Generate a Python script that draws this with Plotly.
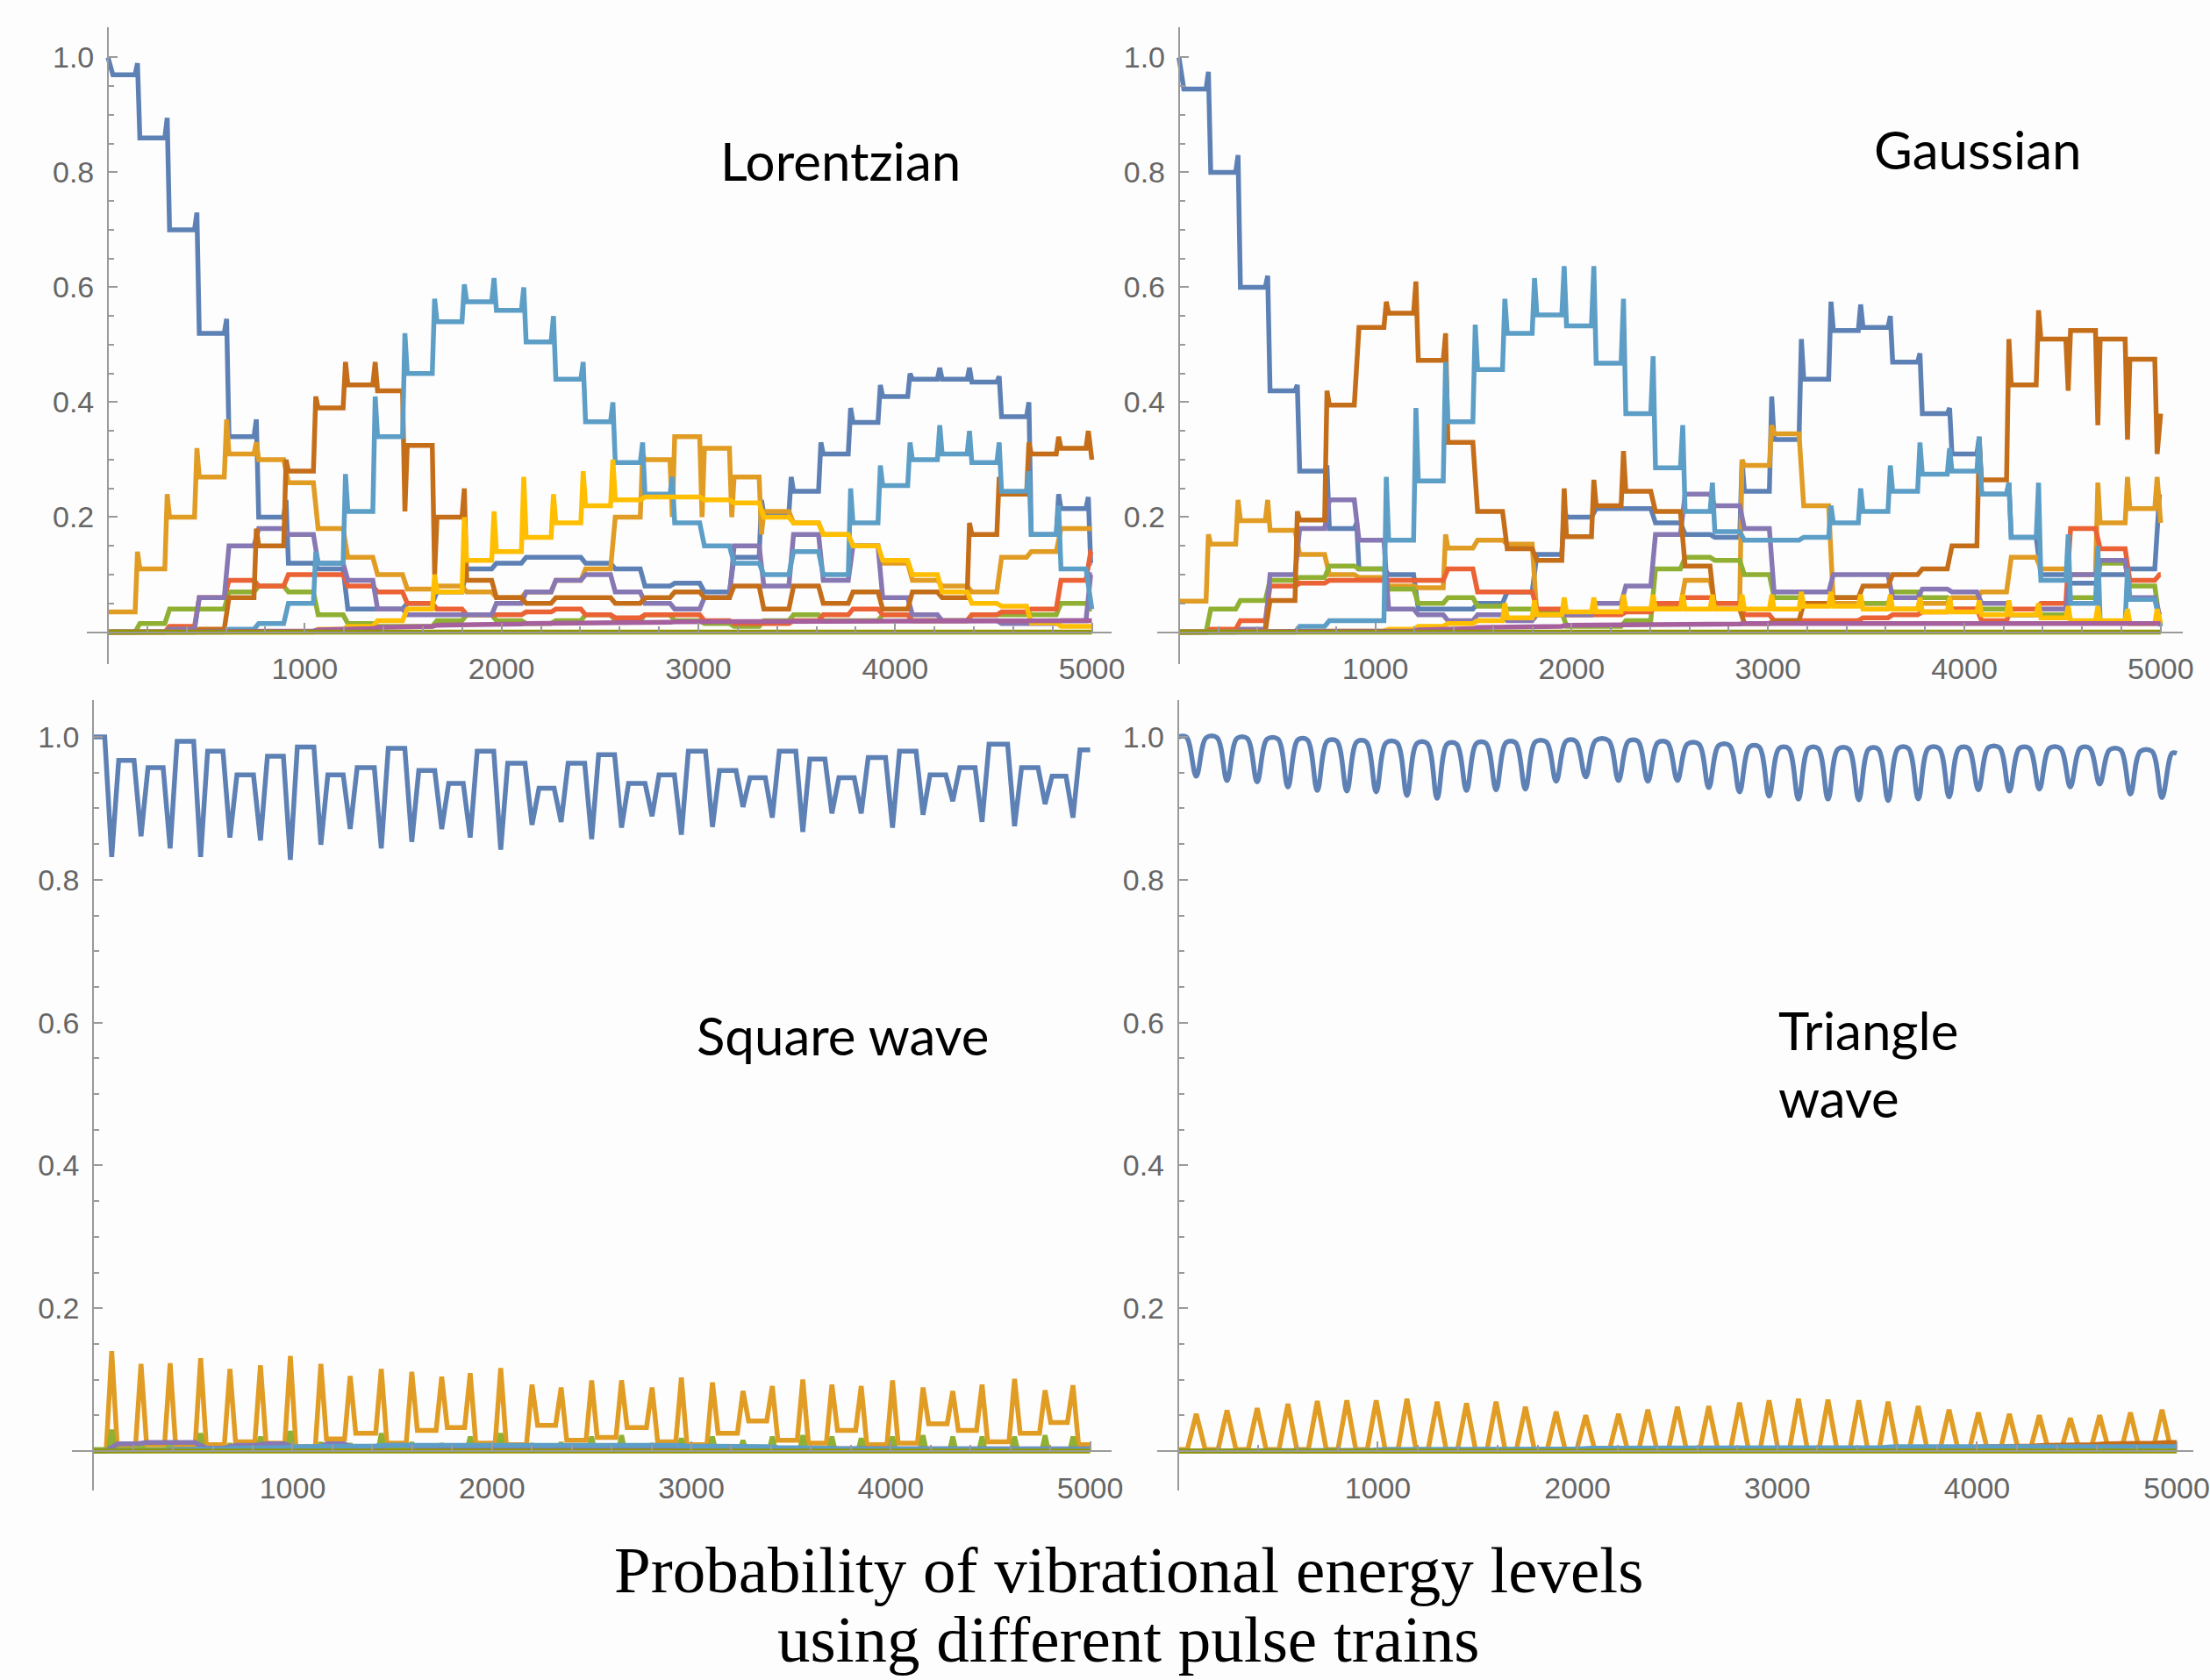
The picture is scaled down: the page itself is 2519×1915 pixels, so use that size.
import plotly.graph_objects as go

W, H = 2519, 1915

# ---------------- data ----------------
# pulse (transition) times, top panels
TOP_T = [150, 301, 452, 603, 754, 905, 1056, 1207, 1358, 1509, 1660, 1811, 1962, 2113, 2264, 2415,
         2566, 2717, 2868, 3019, 3170, 3321, 3472, 3623, 3774, 3925, 4076, 4227, 4378, 4529, 4680,
         4831, 4982]

# Lorentzian: plateau level of each level-population between pulses
L_BLUE = [0.97, 0.86, 0.70, 0.52, 0.34, 0.20, 0.12, 0.11, 0.04, 0.04, 0.05, 0.07, 0.11, 0.12, 0.13, 0.13,
          0.12, 0.11, 0.08, 0.085, 0.07, 0.13, 0.205, 0.245, 0.31, 0.365, 0.41, 0.44, 0.44, 0.435, 0.375,
          0.17, 0.215, 0.12]
L_BLUE_SPK = {1: 0.99, 2: 0.895, 3: 0.73, 4: 0.545, 5: 0.37, 6: 0.23, 22: 0.23, 23: 0.27, 24: 0.33,
              25: 0.39, 26: 0.43, 27: 0.45, 28: 0.46, 29: 0.46, 30: 0.445, 31: 0.40, 32: 0.24, 33: 0.235}
L_ORANGE = [0.035, 0.11, 0.20, 0.27, 0.31, 0.30, 0.26, 0.18, 0.13, 0.10, 0.075, 0.08, 0.07, 0.06, 0.07,
            0.09, 0.11, 0.20, 0.30, 0.34, 0.32, 0.27, 0.21, 0.19, 0.17, 0.15, 0.12, 0.09, 0.08, 0.07,
            0.13, 0.14, 0.18, 0.18]
L_ORANGE_SPK = {1: 0.14, 2: 0.24, 3: 0.32, 4: 0.37, 5: 0.33, 18: 0.31, 19: 0.20, 20: 0.20, 21: 0.20,
                22: 0.17}
L_GREEN = [0, 0.015, 0.04, 0.04, 0.07, 0.08, 0.07, 0.03, 0.015, 0.01, 0.01, 0.02, 0.03, 0.02, 0.015,
           0.02, 0.03, 0.02, 0.03, 0.02, 0.015, 0.01, 0.02, 0.03, 0.02, 0.02, 0.03, 0.02, 0.02, 0.03,
           0.03, 0.03, 0.05, 0.04]
L_RED = [0, 0, 0.01, 0.06, 0.09, 0.08, 0.10, 0.10, 0.08, 0.07, 0.05, 0.04, 0.03, 0.03, 0.035, 0.04,
         0.03, 0.025, 0.03, 0.03, 0.02, 0.015, 0.015, 0.02, 0.03, 0.04, 0.03, 0.02, 0.02, 0.03, 0.035,
         0.04, 0.09, 0.14]
L_PURPLE = [0, 0, 0.005, 0.06, 0.15, 0.18, 0.17, 0.12, 0.09, 0.04, 0.03, 0.03, 0.03, 0.05, 0.07, 0.09,
            0.10, 0.07, 0.05, 0.04, 0.06, 0.15, 0.08, 0.17, 0.09, 0.15, 0.06, 0.03, 0.02, 0.02, 0.015,
            0.015, 0.02, 0.10]
L_BROWN = [0, 0, 0, 0.005, 0.06, 0.15, 0.28, 0.39, 0.43, 0.42, 0.325, 0.20, 0.09, 0.06, 0.05, 0.06,
           0.06, 0.05, 0.06, 0.07, 0.06, 0.08, 0.04, 0.08, 0.05, 0.07, 0.04, 0.07, 0.06, 0.17, 0.24,
           0.31, 0.32, 0.30]
L_BROWN_SPK = {5: 0.18, 6: 0.30, 7: 0.41, 8: 0.47, 9: 0.47, 10: 0.21, 11: 0.10, 12: 0.25, 29: 0.19,
               30: 0.27, 31: 0.33, 32: 0.34, 33: 0.35}
L_LBLUE = [0, 0, 0, 0, 0.005, 0.015, 0.05, 0.12, 0.21, 0.34, 0.45, 0.54, 0.575, 0.56, 0.505, 0.44,
           0.366, 0.295, 0.24, 0.19, 0.15, 0.12, 0.10, 0.14, 0.10, 0.19, 0.255, 0.30, 0.31, 0.295,
           0.245, 0.17, 0.11, 0.04]
L_LBLUE_SPK = {7: 0.14, 8: 0.275, 9: 0.41, 10: 0.52, 11: 0.58, 12: 0.605, 13: 0.616, 14: 0.60,
               15: 0.55, 16: 0.47, 17: 0.40, 18: 0.33, 19: 0.27, 25: 0.25, 26: 0.29, 27: 0.33,
               28: 0.36, 29: 0.35, 30: 0.33, 31: 0.28, 32: 0.22}
L_YELLOW = [0, 0, 0, 0, 0, 0, 0, 0.005, 0.01, 0.02, 0.04, 0.07, 0.125, 0.14, 0.165, 0.19, 0.22, 0.23,
            0.235, 0.235, 0.23, 0.225, 0.20, 0.19, 0.17, 0.15, 0.125, 0.10, 0.07, 0.05, 0.045, 0.016,
            0.01, 0.01]
L_YELLOW_SPK = {11: 0.10, 12: 0.20, 13: 0.21, 14: 0.27, 15: 0.24, 16: 0.28, 17: 0.30}
L_MAGENTA = [0, 0, 0, 0, 0, 0, 0.002, 0.004, 0.006, 0.008, 0.01, 0.012, 0.012, 0.014, 0.015, 0.015,
             0.016, 0.016, 0.017, 0.018, 0.018, 0.018, 0.018, 0.019, 0.019, 0.019, 0.02, 0.02, 0.02,
             0.02, 0.02, 0.02, 0.02, 0.02]

# Gaussian
G_BLUE = [0.945, 0.80, 0.60, 0.42, 0.28, 0.18, 0.11, 0.10, 0.04, 0.04, 0.05, 0.07, 0.135, 0.20, 0.215,
          0.215, 0.19, 0.17, 0.165, 0.245, 0.335, 0.44, 0.525, 0.53, 0.47, 0.38, 0.31, 0.24, 0.165,
          0.10, 0.085, 0.10, 0.11, 0.24]
G_BLUE_SPK = {1: 0.975, 2: 0.83, 3: 0.62, 4: 0.43, 5: 0.29, 6: 0.19, 13: 0.215, 19: 0.30, 20: 0.41,
              21: 0.51, 22: 0.575, 23: 0.57, 24: 0.55, 25: 0.485, 26: 0.39, 27: 0.34, 28: 0.26}
G_ORANGE = [0.054, 0.153, 0.194, 0.177, 0.135, 0.10, 0.095, 0.08, 0.077, 0.146, 0.16, 0.153, 0.03,
            0.03, 0.035, 0.04, 0.045, 0.09, 0.05, 0.29, 0.345, 0.22, 0.05, 0.05, 0.04, 0.05, 0.06,
            0.07, 0.13, 0.11, 0.10, 0.19, 0.215, 0.19]
G_ORANGE_SPK = {1: 0.17, 2: 0.23, 3: 0.23, 9: 0.17, 19: 0.30, 20: 0.36, 31: 0.26, 32: 0.27, 33: 0.27}
G_GREEN = [0, 0.04, 0.055, 0.09, 0.095, 0.115, 0.11, 0.075, 0.05, 0.06, 0.045, 0.04, 0.035, 0.01,
           0.01, 0.02, 0.11, 0.13, 0.125, 0.10, 0.06, 0.05, 0.06, 0.05, 0.07, 0.06, 0.04, 0.04, 0.03,
           0.03, 0.06, 0.12, 0.08, 0.02]
G_RED = [0, 0.005, 0.02, 0.08, 0.085, 0.09, 0.09, 0.09, 0.09, 0.11, 0.07, 0.07, 0.04, 0.03, 0.03,
         0.035, 0.05, 0.06, 0.05, 0.03, 0.02, 0.02, 0.02, 0.025, 0.03, 0.035, 0.04, 0.02, 0.04, 0.05,
         0.18, 0.145, 0.09, 0.10]
G_PURPLE = [0, 0, 0.005, 0.10, 0.18, 0.23, 0.16, 0.04, 0.03, 0.02, 0.03, 0.02, 0.03, 0.03, 0.05, 0.08,
            0.17, 0.24, 0.22, 0.18, 0.07, 0.07, 0.10, 0.10, 0.06, 0.075, 0.07, 0.05, 0.03, 0.04, 0.10,
            0.125, 0.06, 0.03]
G_BROWN = [0, 0, 0.002, 0.055, 0.195, 0.395, 0.53, 0.555, 0.473, 0.33, 0.21, 0.145, 0.125, 0.166,
           0.22, 0.245, 0.21, 0.115, 0.04, 0.015, 0.02, 0.05, 0.06, 0.08, 0.10, 0.11, 0.15, 0.265,
           0.43, 0.51, 0.525, 0.51, 0.475, 0.38]
G_BROWN_SPK = {4: 0.21, 5: 0.42, 7: 0.575, 8: 0.61, 9: 0.52, 13: 0.25, 14: 0.265, 15: 0.315,
               27: 0.33, 28: 0.51, 29: 0.56, 30: 0.42, 31: 0.36, 32: 0.335, 33: 0.31}
G_LBLUE = [0, 0, 0, 0, 0.01, 0.02, 0.02, 0.16, 0.263, 0.366, 0.457, 0.52, 0.552, 0.533, 0.468, 0.38,
           0.286, 0.21, 0.175, 0.16, 0.16, 0.165, 0.19, 0.21, 0.245, 0.275, 0.28, 0.24, 0.165, 0.09,
           0.05, 0.016, 0.057, 0.01]
G_LBLUE_SPK = {7: 0.27, 8: 0.39, 9: 0.47, 10: 0.535, 11: 0.58, 12: 0.616, 13: 0.637, 14: 0.637,
               15: 0.58, 16: 0.48, 17: 0.36, 18: 0.26, 22: 0.22, 23: 0.25, 24: 0.29, 25: 0.33,
               26: 0.32, 27: 0.34, 28: 0.26, 29: 0.26, 30: 0.17, 31: 0.15, 32: 0.11}
G_YELLOW = [0, 0, 0, 0, 0, 0, 0.002, 0.005, 0.01, 0.015, 0.02, 0.025, 0.03, 0.035, 0.035, 0.04, 0.04,
            0.04, 0.04, 0.04, 0.04, 0.045, 0.045, 0.04, 0.04, 0.035, 0.035, 0.03, 0.03, 0.025, 0.02,
            0.02, 0.015, 0.015]
G_YELLOW_SPK = {11: 0.05, 12: 0.055, 13: 0.06, 14: 0.06, 15: 0.065, 16: 0.065, 17: 0.065, 18: 0.065,
                19: 0.065, 20: 0.065, 21: 0.07, 22: 0.07, 23: 0.065, 24: 0.065, 25: 0.06, 26: 0.06,
                27: 0.055, 28: 0.055, 29: 0.05, 30: 0.045, 31: 0.045, 32: 0.04, 33: 0.04}
G_MAGENTA = [0, 0, 0, 0, 0, 0, 0, 0.002, 0.004, 0.006, 0.008, 0.01, 0.01, 0.012, 0.012, 0.012, 0.014,
             0.014, 0.014, 0.015, 0.015, 0.015, 0.015, 0.015, 0.015, 0.015, 0.015, 0.015, 0.015,
             0.015, 0.015, 0.015, 0.015, 0.015]

# Square wave: pulse centres, plateaus between pulses and extreme value during each pulse
SQ_T = [93, 240, 386, 539, 686, 839, 989, 1142, 1289, 1445, 1598, 1748, 1891, 2044, 2201, 2347, 2500,
        2650, 2803, 2950, 3106, 3259, 3406, 3559, 3705, 3852, 4009, 4162, 4311, 4458, 4621, 4774, 4914]
SQ_BLUE_PLAT = [1.0, 0.967, 0.957, 0.994, 0.980, 0.947, 0.973, 0.986, 0.947, 0.957, 0.984, 0.953,
                0.935, 0.980, 0.963, 0.928, 0.963, 0.975, 0.935, 0.947, 0.980, 0.953, 0.943, 0.980,
                0.969, 0.943, 0.971, 0.980, 0.947, 0.957, 0.990, 0.957, 0.945, 0.982]
SQ_BLUE_DIP = [0.832, 0.861, 0.844, 0.832, 0.859, 0.855, 0.828, 0.849, 0.871, 0.844, 0.853, 0.871,
               0.859, 0.842, 0.877, 0.881, 0.857, 0.873, 0.889, 0.863, 0.874, 0.902, 0.887, 0.867,
               0.893, 0.893, 0.873, 0.891, 0.910, 0.881, 0.875, 0.906, 0.887]
SQ_ORANGE_BASE = [0.0, 0.006, 0.009, 0.006, 0.009, 0.013, 0.011, 0.006, 0.017, 0.025, 0.011, 0.029,
                  0.033, 0.011, 0.009, 0.036, 0.015, 0.019, 0.033, 0.013, 0.009, 0.025, 0.042, 0.015,
                  0.011, 0.029, 0.009, 0.011, 0.038, 0.029, 0.013, 0.025, 0.040, 0.009]
SQ_ORANGE_PEAK = [0.140, 0.122, 0.123, 0.130, 0.115, 0.120, 0.133, 0.122, 0.105, 0.115, 0.111, 0.104,
                  0.109, 0.116, 0.093, 0.089, 0.099, 0.099, 0.089, 0.103, 0.096, 0.084, 0.091, 0.100,
                  0.093, 0.091, 0.099, 0.089, 0.084, 0.093, 0.101, 0.085, 0.092]
SQ_GREEN_PEAK = [0.03, 0.01, 0.01, 0.025, 0.01, 0.02, 0.028, 0.012, 0.01, 0.025, 0.012, 0.01, 0.02,
                 0.025, 0.01, 0.012, 0.02, 0.022, 0.01, 0.018, 0.02, 0.015, 0.02, 0.022, 0.02, 0.018,
                 0.02, 0.022, 0.02, 0.02, 0.02, 0.022, 0.02]
SQ_PURPLE_BASE = [0, 0.01, 0.012, 0.012, 0.004, 0.008, 0.01, 0.003, 0.01, 0.003, 0.008, 0.006, 0.003,
                  0.004, 0.003, 0.004, 0.005, 0.006, 0.004, 0.003, 0.004, 0.003, 0.004, 0.003, 0.004,
                  0.003, 0.003, 0.004, 0.003, 0.004, 0.003, 0.003, 0.003, 0.003]
SQ_LBLUE_BASE = [0, 0, 0.001, 0.002, 0.003, 0.004, 0.005, 0.006, 0.007, 0.007, 0.008, 0.008, 0.008,
                 0.008, 0.009, 0.009, 0.009, 0.008, 0.008, 0.008, 0.007, 0.007, 0.006, 0.005, 0.004,
                 0.003, 0.003, 0.002, 0.002, 0.002, 0.002, 0.002, 0.002, 0.002]

# Triangle wave
TRI_T = [91, 245, 396, 550, 697, 845, 992, 1146, 1297, 1444, 1592, 1739, 1893, 2041, 2205, 2352, 2500,
         2657, 2811, 2959, 3106, 3254, 3408, 3555, 3706, 3860, 4007, 4162, 4312, 4467, 4614, 4768, 4926]
TRI_BLUE_PEAK = [1.0, 0.999, 0.998, 0.997, 0.996, 0.994, 0.993, 0.992, 0.991, 0.990, 0.991, 0.992,
                 0.993, 0.994, 0.995, 0.994, 0.992, 0.990, 0.988, 0.986, 0.984, 0.984, 0.983, 0.983,
                 0.984, 0.984, 0.984, 0.985, 0.984, 0.984, 0.984, 0.982, 0.980, 0.977]
TRI_BLUE_TROUGH = [0.945, 0.939, 0.937, 0.930, 0.925, 0.924, 0.923, 0.918, 0.914, 0.925, 0.926, 0.927,
                   0.938, 0.944, 0.939, 0.938, 0.939, 0.929, 0.923, 0.917, 0.913, 0.913, 0.912, 0.911,
                   0.913, 0.916, 0.926, 0.924, 0.927, 0.930, 0.934, 0.920, 0.915]
TRI_ORANGE_PEAK = [0.052, 0.057, 0.060, 0.066, 0.070, 0.071, 0.071, 0.073, 0.069, 0.067, 0.069, 0.062,
                   0.055, 0.050, 0.052, 0.058, 0.062, 0.063, 0.068, 0.071, 0.073, 0.072, 0.071, 0.069,
                   0.063, 0.058, 0.054, 0.052, 0.050, 0.046, 0.050, 0.054, 0.058]
TRI_ORANGE_BASE = 0.002
TRI_RED_LEVEL = [0, 0, 0, 0, 0, 0, 0, 0, 0, 0, 0, 0, 0, 0, 0, 0, 0.001, 0.001, 0.001, 0.002, 0.002,
                 0.002, 0.003, 0.003, 0.004, 0.004, 0.005, 0.006, 0.007, 0.008, 0.009, 0.01, 0.011, 0.012]
TRI_LBLUE_LEVEL = [0, 0, 0, 0, 0, 0.001, 0.001, 0.002, 0.002, 0.002, 0.003, 0.003, 0.003, 0.003, 0.004,
                   0.004, 0.004, 0.004, 0.004, 0.005, 0.005, 0.005, 0.005, 0.005, 0.006, 0.006, 0.006,
                   0.006, 0.006, 0.006, 0.006, 0.006, 0.006, 0.006]

X_TICKS = [1000, 2000, 3000, 4000, 5000]
Y_TICKS = [0.2, 0.4, 0.6, 0.8, 1.0]
Y_TICK_TEXT = ["0.2", "0.4", "0.6", "0.8", "1.0"]

# Mathematica default palette (ColorData[97])
C = ["#5E81B5", "#E19C24", "#8FB032", "#EB6235", "#8778B3", "#C56E1A", "#5D9EC7", "#FFBF00",
     "#A5609D", "#929600"]

LW = 5.5


# ---------------- helpers ----------------
def stepped(times, levels, spikes=None, start=None, w=12, x_end=5000):
    xs, ys = [0], [levels[0] if start is None else start]
    if start is not None:
        xs.append(25)
        ys.append(levels[0])
    for k, t in enumerate(times):
        xs.append(t - w)
        ys.append(levels[k])
        if spikes and (k + 1) in spikes:
            xs.append(t)
            ys.append(spikes[k + 1])
        xs.append(t + w)
        ys.append(levels[k + 1])
    xs.append(x_end)
    ys.append(levels[-1])
    return xs, ys


def pulsed(times, base, peaks, hw, x_end=5000):
    b = base if isinstance(base, list) else [base] * (len(times) + 1)
    xs, ys = [0], [b[0]]
    for k, t in enumerate(times):
        xs += [t - hw, t, t + hw]
        ys += [b[k], peaks[k], b[k + 1]]
    xs.append(x_end)
    ys.append(b[-1])
    return xs, ys


fig = go.Figure()


def add(xy, color, n, shape="linear", smoothing=None):
    ax = "" if n == 1 else str(n)
    fig.add_trace(go.Scatter(x=xy[0], y=xy[1], mode="lines",
                             line=dict(color=color, width=LW, shape=shape, smoothing=smoothing),
                             xaxis="x" + ax, yaxis="y" + ax, showlegend=False, hoverinfo="skip"))


ZERO = [0] * 34

# Panel 1 - Lorentzian
add(stepped(TOP_T, L_BLUE, L_BLUE_SPK, start=1.0), C[0], 1)
add(stepped(TOP_T, L_ORANGE, L_ORANGE_SPK), C[1], 1)
add(stepped(TOP_T, L_GREEN), C[2], 1)
add(stepped(TOP_T, L_RED), C[3], 1)
add(stepped(TOP_T, L_PURPLE), C[4], 1)
add(stepped(TOP_T, L_BROWN, L_BROWN_SPK), C[5], 1)
add(stepped(TOP_T, L_LBLUE, L_LBLUE_SPK), C[6], 1)
add(stepped(TOP_T, L_YELLOW, L_YELLOW_SPK), C[7], 1)
add(stepped(TOP_T, L_MAGENTA), C[8], 1)
add(stepped(TOP_T, ZERO), C[9], 1)

# Panel 2 - Gaussian
add(stepped(TOP_T, G_BLUE, G_BLUE_SPK, start=1.0), C[0], 2)
add(stepped(TOP_T, G_ORANGE, G_ORANGE_SPK), C[1], 2)
add(stepped(TOP_T, G_GREEN), C[2], 2)
add(stepped(TOP_T, G_RED), C[3], 2)
add(stepped(TOP_T, G_PURPLE), C[4], 2)
add(stepped(TOP_T, G_BROWN, G_BROWN_SPK), C[5], 2)
add(stepped(TOP_T, G_LBLUE, G_LBLUE_SPK), C[6], 2)
add(stepped(TOP_T, G_YELLOW, G_YELLOW_SPK), C[7], 2)
add(stepped(TOP_T, G_MAGENTA), C[8], 2)
add(stepped(TOP_T, ZERO), C[9], 2)

# Panel 3 - Square wave
add(pulsed(SQ_T, SQ_BLUE_PLAT, SQ_BLUE_DIP, 35), C[0], 3)
add(pulsed(SQ_T, SQ_ORANGE_BASE, SQ_ORANGE_PEAK, 28), C[1], 3)
add(pulsed(SQ_T, 0.002, SQ_GREEN_PEAK, 15), C[2], 3)
add(stepped(SQ_T, SQ_PURPLE_BASE, w=30), C[4], 3)
add(stepped(SQ_T, SQ_LBLUE_BASE, w=30), C[6], 3)
add(stepped(SQ_T, ZERO), C[9], 3)

# Panel 4 - Triangle wave
add(pulsed(TRI_T, TRI_BLUE_PEAK, TRI_BLUE_TROUGH, 50), C[0], 4, shape="spline", smoothing=1.0)
add(pulsed(TRI_T, TRI_ORANGE_BASE, TRI_ORANGE_PEAK, 45), C[1], 4)
add(stepped(TRI_T, TRI_RED_LEVEL, w=30), C[5], 4)
add(stepped(TRI_T, TRI_LBLUE_LEVEL, w=30), C[6], 4)
add(stepped(TRI_T, ZERO), C[9], 4)

# ---------------- axes ----------------
AX_COLOR = "#9a9a9a"
TICK_FONT = dict(family="Liberation Sans, Arial, sans-serif", size=34, color="#666666")

# (x origin px, px per x unit, x range, y origin px, px per y unit, y range)
PANELS = [
    (124, 0.2260, [-106, 5102], 720.5, 655, [-0.055, 1.053]),
    (1354, 0.2255, [-110, 5114], 720.5, 655, [-0.055, 1.053]),
    (107, 0.2290, [-105, 5109], 1654, 814, [-0.055, 1.052]),
    (1353, 0.2294, [-105, 5083], 1654, 814, [-0.055, 1.052]),
]

layout_axes = {}
for i, (x0, xs, xr, y0, ys, yr) in enumerate(PANELS, start=1):
    sfx = "" if i == 1 else str(i)
    xdom = [(x0 + xr[0] * xs) / W, min(1.0, (x0 + xr[1] * xs) / W)]
    ydom = [1 - (y0 - yr[0] * ys) / H, 1 - (y0 - yr[1] * ys) / H]
    layout_axes["xaxis" + sfx] = dict(
        domain=xdom, range=xr, anchor="free", position=1 - y0 / H,
        showline=True, linecolor=AX_COLOR, linewidth=2, showgrid=False, zeroline=False,
        ticks="inside", ticklen=10, tickwidth=2, tickcolor=AX_COLOR,
        tickvals=X_TICKS, ticktext=[str(v) for v in X_TICKS], tickfont=TICK_FONT,
        ticklabelstandoff=12, ticklabeloverflow="allow",
        minor=dict(ticks="inside", ticklen=6, tickwidth=1.5, tickcolor=AX_COLOR,
                   tickvals=[v for v in range(200, 5001, 200) if v % 1000]),
    )
    layout_axes["yaxis" + sfx] = dict(
        domain=ydom, range=yr, anchor="free", position=x0 / W,
        showline=True, linecolor=AX_COLOR, linewidth=2, showgrid=False, zeroline=False,
        ticks="inside", ticklen=10, tickwidth=2, tickcolor=AX_COLOR,
        tickvals=Y_TICKS, ticktext=Y_TICK_TEXT, tickfont=TICK_FONT,
        ticklabelstandoff=8,
        minor=dict(ticks="inside", ticklen=6, tickwidth=1.5, tickcolor=AX_COLOR,
                   tickvals=[0.05, 0.1, 0.15, 0.25, 0.3, 0.35, 0.45, 0.5, 0.55, 0.65, 0.7, 0.75,
                             0.85, 0.9, 0.95]),
    )

LABEL_FONT = dict(family="Lato, Carlito, Calibri, sans-serif", size=60, color="#000000")
TITLE_FONT = dict(family="Liberation Serif, Times New Roman, serif", size=75, color="#000000")


def ann(text, xpx, baseline, font, xanchor="center"):
    return dict(text=text, x=xpx / W, y=1 - (baseline - 0.36 * font["size"]) / H,
                xref="paper", yref="paper", xanchor=xanchor, yanchor="middle",
                showarrow=False, font=font)


annotations = [
    ann("Lorentzian", 965, 205, LABEL_FONT),
    ann("Gaussian", 2272, 192, LABEL_FONT),
    ann("Square wave", 968, 1202, LABEL_FONT),
    ann("Triangle", 2040, 1196, LABEL_FONT, xanchor="left"),
    ann("wave", 2040, 1273, LABEL_FONT, xanchor="left"),
    ann("Probability of vibrational energy levels", 1296, 1816, TITLE_FONT),
    ann("using different pulse trains", 1296, 1895, TITLE_FONT),
]

fig.update_layout(
    width=W, height=H, autosize=False,
    margin=dict(l=0, r=0, t=0, b=0, pad=0),
    paper_bgcolor="#fdfdfd", plot_bgcolor="#fdfdfd",
    showlegend=False, annotations=annotations,
    **layout_axes,
)

fig.write_html("out.html")
